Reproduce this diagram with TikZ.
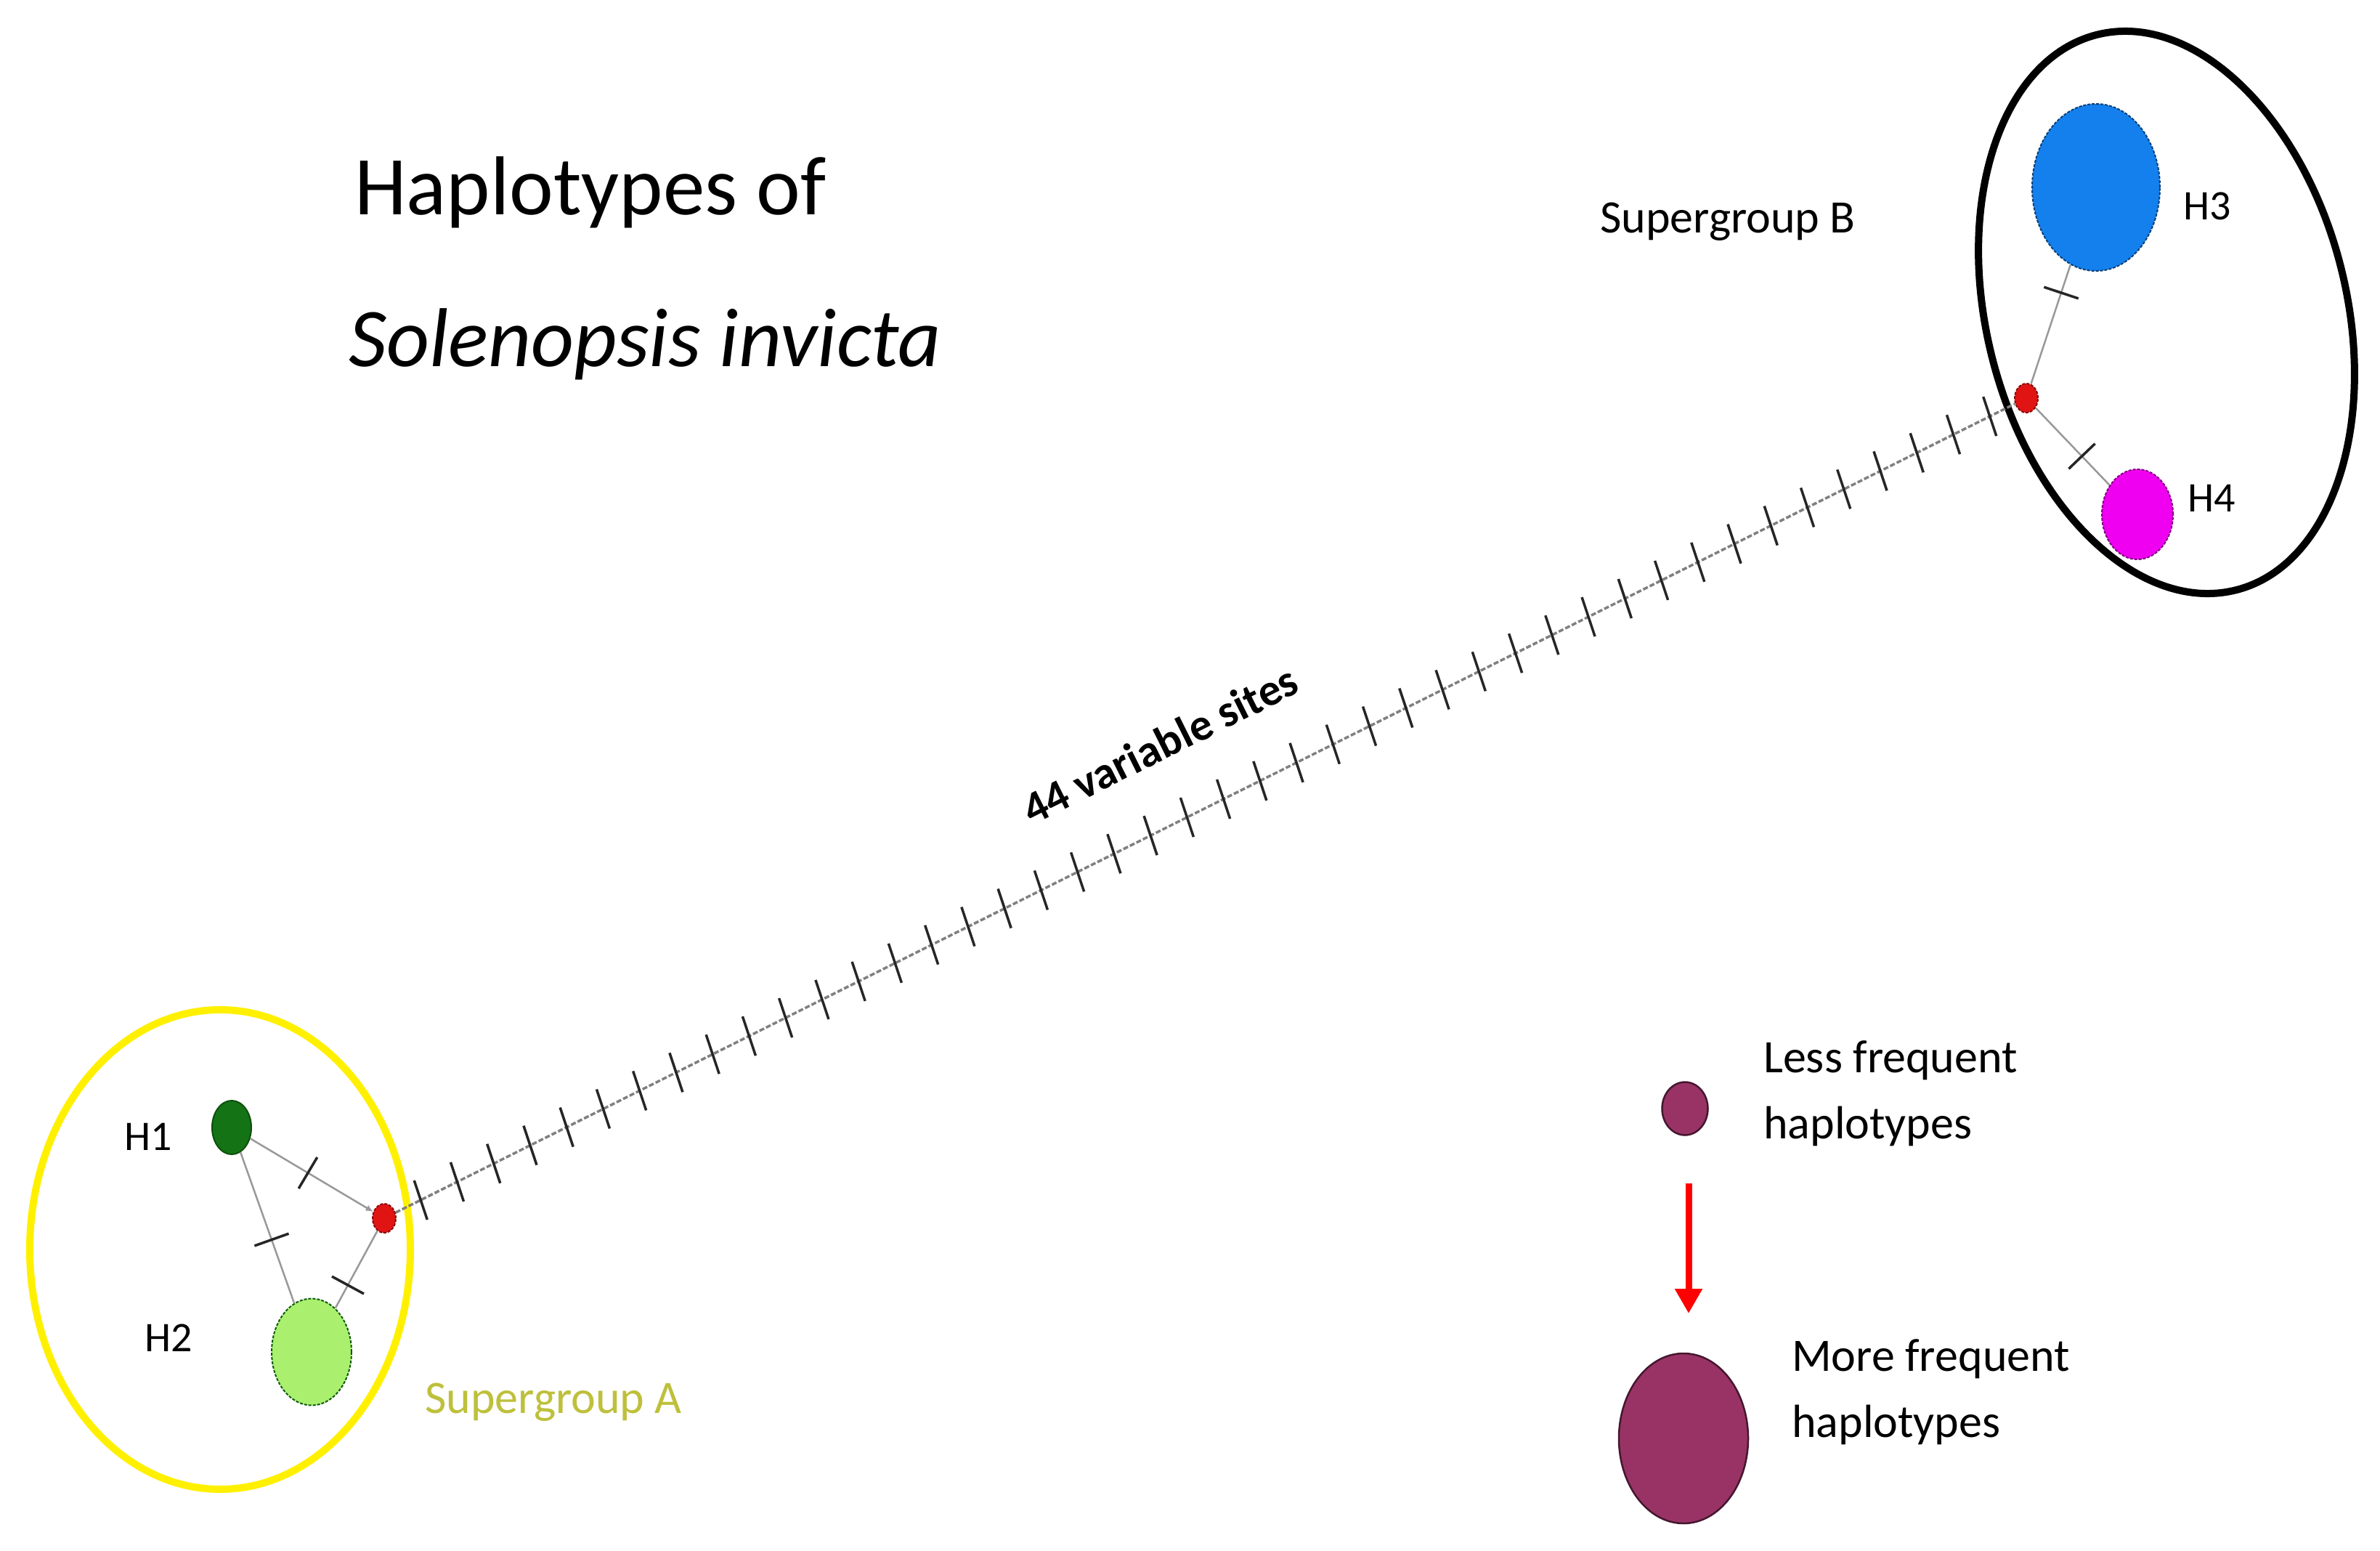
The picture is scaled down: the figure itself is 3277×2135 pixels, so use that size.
\documentclass[tikz,border=0pt]{standalone}
\usepackage{fontspec}
\setmainfont{Carlito}
\usetikzlibrary{shapes.geometric,arrows.meta,calc}
\definecolor{hdark}{RGB}{20,115,20}
\definecolor{hlight}{RGB}{170,240,110}
\definecolor{hblue}{RGB}{20,128,238}
\definecolor{hmag}{RGB}{240,0,240}
\definecolor{hred}{RGB}{225,20,20}
\definecolor{hleg}{RGB}{153,51,102}
\definecolor{hyel}{RGB}{255,240,0}
\definecolor{supA}{RGB}{190,192,60}
\begin{document}
\begin{tikzpicture}[x=1pt,y=-1pt,
  hap/.style={ellipse,inner sep=0pt,line width=2pt,dash pattern=on 4pt off 2pt},
  lbl/.style={anchor=base west,inner sep=0pt,font=\fontsize{58pt}{70pt}\selectfont},
  big/.style={anchor=base west,inner sep=0pt,font=\fontsize{115pt}{138pt}\selectfont},
  mid/.style={anchor=base west,inner sep=0pt,font=\fontsize{64pt}{77pt}\selectfont},
  conn/.style={draw=gray!80,line width=2.5pt},
  chain/.style={draw=gray,line width=3.5pt,dash pattern=on 7pt off 3pt},
  tk/.style={draw=black!85,line width=3.5pt},
  ctick/.style={draw=black!85,line width=3.5pt},
  group/.style={line width=10pt}]
\path[use as bounding box,fill=white] (0,0) rectangle (3277,2135);

% group ellipses
\draw[group,draw=hyel] (303,1720) ellipse [x radius=262pt,y radius=330pt];
\draw[group,draw=black,rotate around={14:(2983,430)}] (2983,430) ellipse [x radius=248pt,y radius=394pt];

% haplotype nodes
\node[hap,fill=hdark,draw=hdark!70!black,solid,minimum width=54pt,minimum height=74pt] (hone) at (319,1552) {};
\node[hap,fill=hlight,draw=hdark!80!black,minimum width=110pt,minimum height=147pt] (htwo) at (429,1861) {};
\node[hap,fill=hred,draw=hred!60!black,minimum width=32pt,minimum height=40pt] (ra) at (529,1677) {};
\node[hap,fill=hblue,draw=hblue!50!black,minimum width=176pt,minimum height=230pt] (hthree) at (2886,258) {};
\node[hap,fill=hmag,draw=hmag!55!black,minimum width=98pt,minimum height=124pt] (hfour) at (2943,708) {};
\node[hap,fill=hred,draw=hred!60!black,minimum width=32pt,minimum height=40pt] (rb) at (2790,548) {};

% connectors in group A
\draw[conn,-{Latex[length=10pt,width=9pt]}] (hone) -- (ra);
\draw[conn] (hone) -- (htwo);
\draw[conn] (ra) -- (htwo);
% connectors in group B
\draw[conn] (rb) -- (hthree);
\draw[conn] (rb) -- (hfour);

% ticks on short connectors
\coordinate (m1) at ($(hone)!0.5!(ra)$);
\coordinate (m2) at ($(hone)!0.5!(htwo)$);
\coordinate (m3) at ($(ra)!0.5!(htwo)$);
\coordinate (m4) at ($(rb)!0.5!(hthree)$);
\coordinate (m5) at ($(rb)!0.5!(hfour)$);
\draw[tk] ($(m1)!25pt!90:(ra)$) -- ($(m1)!25pt!-90:(ra)$);
\draw[tk] ($(m2)!25pt!90:(htwo)$) -- ($(m2)!25pt!-90:(htwo)$);
\draw[tk] ($(m3)!25pt!90:(htwo)$) -- ($(m3)!25pt!-90:(htwo)$);
\draw[tk] ($(m4)!25pt!90:(hthree)$) -- ($(m4)!25pt!-90:(hthree)$);
\draw[tk] ($(m5)!25pt!90:(hfour)$) -- ($(m5)!25pt!-90:(hfour)$);

% long chain with 44 mutations
\draw[chain] (ra) -- (rb);
\foreach \k in {1,...,44} {
  \draw[ctick] ($(ra)!{\k/45}!(rb)$) ++(-9,-27) -- ++(18,54);
}
\node[inner sep=0pt,rotate=26.5,font=\bfseries\fontsize{62pt}{74pt}\selectfont] (sites) at (1597,1025) {44 variable sites};

% labels
\node[lbl] (lone) at (171,1583) {H1};
\node[lbl] (ltwo) at (199,1860) {H2};
\node[lbl] (lthree) at (3006,302) {H3};
\node[lbl] (lfour) at (3012,704) {H4};
\node[mid] (sgb) at (2203,320) {Supergroup B};
\node[mid,text=supA] (sga) at (585,1945) {Supergroup A};

% title
\node[big] (tone) at (488,296) {Haplotypes of};
\node[big,font=\itshape\fontsize{115pt}{138pt}\selectfont] (ttwo) at (480,504) {Solenopsis invicta};

% legend
\node[ellipse,inner sep=0pt,fill=hleg,draw=hleg!45!black,line width=2.5pt,minimum width=63pt,minimum height=73pt] (lsmall) at (2320,1526) {};
\node[ellipse,inner sep=0pt,fill=hleg,draw=hleg!45!black,line width=2.5pt,minimum width=178pt,minimum height=234pt] (lbig) at (2318,1980) {};
\coordinate (as) at (2325,1629);
\coordinate (ae) at (2325,1808);
\draw[draw=red,line width=9pt,-{Triangle[length=34pt,width=36pt]}] (as) -- (ae);
\node[mid] (less1) at (2428,1476) {Less frequent};
\node[mid] (less2) at (2428,1567) {haplotypes};
\node[mid] (more1) at (2467,1887) {More frequent};
\node[mid] (more2) at (2467,1978) {haplotypes};
\end{tikzpicture}
\end{document}
